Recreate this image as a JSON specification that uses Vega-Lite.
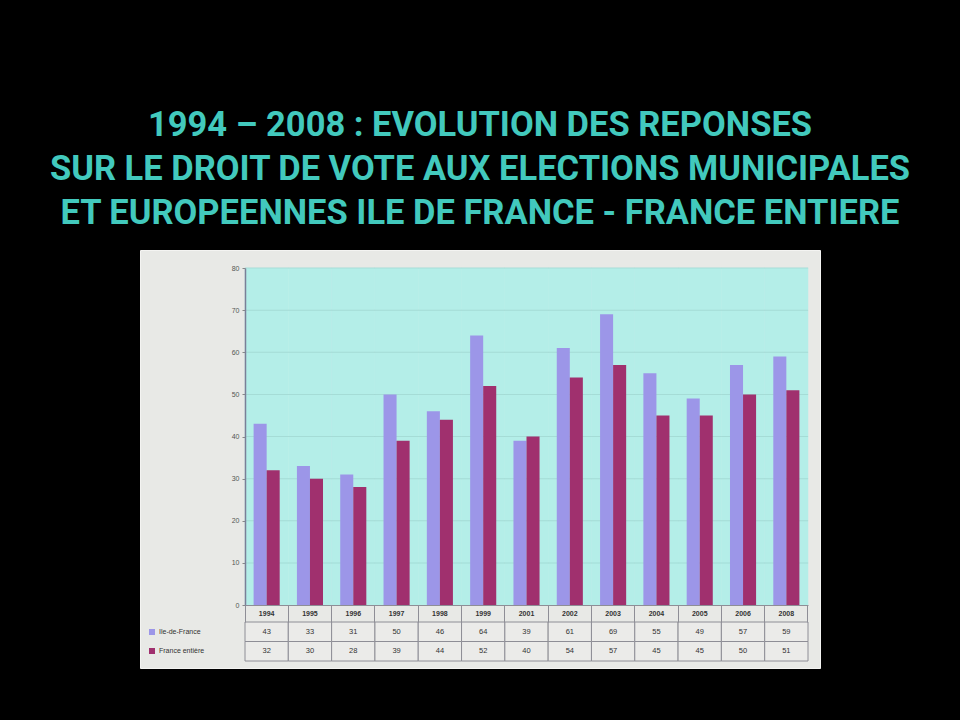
{
  "$schema": "https://vega.github.io/schema/vega-lite/v6.json",
  "width": 680,
  "height": 418,
  "autosize": {"type": "none"},
  "padding": {"left": 140, "top": 250, "right": 140, "bottom": 52},
  "background": "#000000",
  "view": {"fill": "#e8e9e6", "stroke": "#f4f4f2"},
  "title": {
    "text": ["1994 – 2008 : EVOLUTION DES REPONSES", "SUR LE DROIT DE VOTE AUX ELECTIONS MUNICIPALES", "ET EUROPEENNES ILE DE FRANCE - FRANCE ENTIERE"],
    "anchor": "middle",
    "frame": "group",
    "color": "#42c9bd",
    "font": "Roboto",
    "fontWeight": "bold",
    "fontSize": 34.5,
    "lineHeight": 44,
    "offset": 19
  },
  "datasets": {
    "votes": [
      {"year": "1994", "series": "Ile-de-France", "value": 43},
      {"year": "1995", "series": "Ile-de-France", "value": 33},
      {"year": "1996", "series": "Ile-de-France", "value": 31},
      {"year": "1997", "series": "Ile-de-France", "value": 50},
      {"year": "1998", "series": "Ile-de-France", "value": 46},
      {"year": "1999", "series": "Ile-de-France", "value": 64},
      {"year": "2001", "series": "Ile-de-France", "value": 39},
      {"year": "2002", "series": "Ile-de-France", "value": 61},
      {"year": "2003", "series": "Ile-de-France", "value": 69},
      {"year": "2004", "series": "Ile-de-France", "value": 55},
      {"year": "2005", "series": "Ile-de-France", "value": 49},
      {"year": "2006", "series": "Ile-de-France", "value": 57},
      {"year": "2008", "series": "Ile-de-France", "value": 59},
      {"year": "1994", "series": "France entière", "value": 32},
      {"year": "1995", "series": "France entière", "value": 30},
      {"year": "1996", "series": "France entière", "value": 28},
      {"year": "1997", "series": "France entière", "value": 39},
      {"year": "1998", "series": "France entière", "value": 44},
      {"year": "1999", "series": "France entière", "value": 52},
      {"year": "2001", "series": "France entière", "value": 40},
      {"year": "2002", "series": "France entière", "value": 54},
      {"year": "2003", "series": "France entière", "value": 57},
      {"year": "2004", "series": "France entière", "value": 45},
      {"year": "2005", "series": "France entière", "value": 45},
      {"year": "2006", "series": "France entière", "value": 50},
      {"year": "2008", "series": "France entière", "value": 51}
    ]
  },
  "data": {"name": "votes"},
  "resolve": {"scale": {"y": "independent"}},
  "layer": [
    {
      "layer": [
        {
          "transform": [{"filter": "datum.series === 'Ile-de-France'"}],
          "layer": [
            {
              "mark": {"type": "rect", "fill": "#b4eee8", "stroke": "#b4eee8", "strokeWidth": 0.5},
              "encoding": {
                "x": {"field": "year", "type": "nominal"},
                "y": {"datum": 0, "type": "quantitative"},
                "y2": {"datum": 80}
              }
            },
            {"mark": {"type": "tick", "color": "#9ed4ce", "thickness": 1, "size": 43.5}, "encoding": {"x": {"field": "year", "type": "nominal"}, "y": {"datum": 10, "type": "quantitative"}}},
            {"mark": {"type": "tick", "color": "#9ed4ce", "thickness": 1, "size": 43.5}, "encoding": {"x": {"field": "year", "type": "nominal"}, "y": {"datum": 20, "type": "quantitative"}}},
            {"mark": {"type": "tick", "color": "#9ed4ce", "thickness": 1, "size": 43.5}, "encoding": {"x": {"field": "year", "type": "nominal"}, "y": {"datum": 30, "type": "quantitative"}}},
            {"mark": {"type": "tick", "color": "#9ed4ce", "thickness": 1, "size": 43.5}, "encoding": {"x": {"field": "year", "type": "nominal"}, "y": {"datum": 40, "type": "quantitative"}}},
            {"mark": {"type": "tick", "color": "#9ed4ce", "thickness": 1, "size": 43.5}, "encoding": {"x": {"field": "year", "type": "nominal"}, "y": {"datum": 50, "type": "quantitative"}}},
            {"mark": {"type": "tick", "color": "#9ed4ce", "thickness": 1, "size": 43.5}, "encoding": {"x": {"field": "year", "type": "nominal"}, "y": {"datum": 60, "type": "quantitative"}}},
            {"mark": {"type": "tick", "color": "#9ed4ce", "thickness": 1, "size": 43.5}, "encoding": {"x": {"field": "year", "type": "nominal"}, "y": {"datum": 70, "type": "quantitative"}}},
            {"mark": {"type": "tick", "color": "#a4d8d2", "thickness": 1, "size": 43.5}, "encoding": {"x": {"field": "year", "type": "nominal"}, "y": {"datum": 80, "type": "quantitative"}}}
          ]
        },
        {
          "mark": {"type": "bar"},
          "encoding": {
            "x": {
              "field": "year",
              "type": "nominal",
              "scale": {
                "domain": ["1994", "1995", "1996", "1997", "1998", "1999", "2001", "2002", "2003", "2004", "2005", "2006", "2008"],
                "range": [105, 668],
                "paddingInner": 0,
                "paddingOuter": 0
              },
              "axis": {
                "orient": "bottom",
                "offset": -63,
                "title": null,
                "labelAngle": 0,
                "labelAlign": "center",
                "labelFontSize": 7,
                "labelFont": "Liberation Sans",
                "labelFontWeight": "bold",
                "labelColor": "#333333",
                "labelPadding": -8.5,
                "labelBaseline": "middle",
                "domainColor": "#8e8e96",
                "tickColor": "#8e8e96",
                "tickSize": 17,
                "bandPosition": 1,
                "tickExtra": true,
                "zindex": 1
              }
            },
            "xOffset": {
              "field": "series",
              "type": "nominal",
              "scale": {"domain": ["Ile-de-France", "France entière"], "paddingInner": 0, "paddingOuter": 0.66}
            },
            "y": {
              "field": "value",
              "type": "quantitative",
              "scale": {"domain": [0, 80], "range": [355, 18], "nice": false},
              "axis": {
                "offset": -105,
                "values": [0, 10, 20, 30, 40, 50, 60, 70, 80],
                "labelFontSize": 7,
                "labelColor": "#555555",
                "labelFont": "Liberation Sans",
                "domainColor": "#7b7f97",
                "domainWidth": 1.5,
                "tickColor": "#888888",
                "tickSize": 3,
                "labelPadding": 3,
                "grid": false,
                "title": null,
                "zindex": 1
              }
            },
            "color": {
              "field": "series",
              "type": "nominal",
              "scale": {"domain": ["Ile-de-France", "France entière"], "range": ["#9c96e8", "#a0306e"]},
              "legend": {
                "orient": "none",
                "legendX": 8,
                "legendY": 378,
                "title": null,
                "symbolType": "square",
                "symbolSize": 36,
                "labelFontSize": 7,
                "labelFont": "Liberation Sans",
                "labelColor": "#333333",
                "rowPadding": 12,
                "padding": 0,
                "labelOffset": 3
              }
            }
          }
        }
      ]
    },
    {
      "layer": [
        {
          "mark": {"type": "rect", "fill": "#ebebe9", "stroke": "#8e8e96", "strokeWidth": 1},
          "encoding": {
            "x": {"field": "year", "type": "nominal"},
            "y": {
              "field": "series",
              "type": "nominal",
              "scale": {"type": "band", "domain": ["Ile-de-France", "France entière"], "range": [372, 411], "paddingInner": 0, "paddingOuter": 0},
              "axis": null
            }
          }
        },
        {
          "mark": {"type": "text", "fontSize": 7.5, "font": "Liberation Sans", "color": "#333333"},
          "encoding": {
            "x": {"field": "year", "type": "nominal"},
            "y": {"field": "series", "type": "nominal", "axis": null},
            "text": {"field": "value"}
          }
        }
      ]
    }
  ]
}
